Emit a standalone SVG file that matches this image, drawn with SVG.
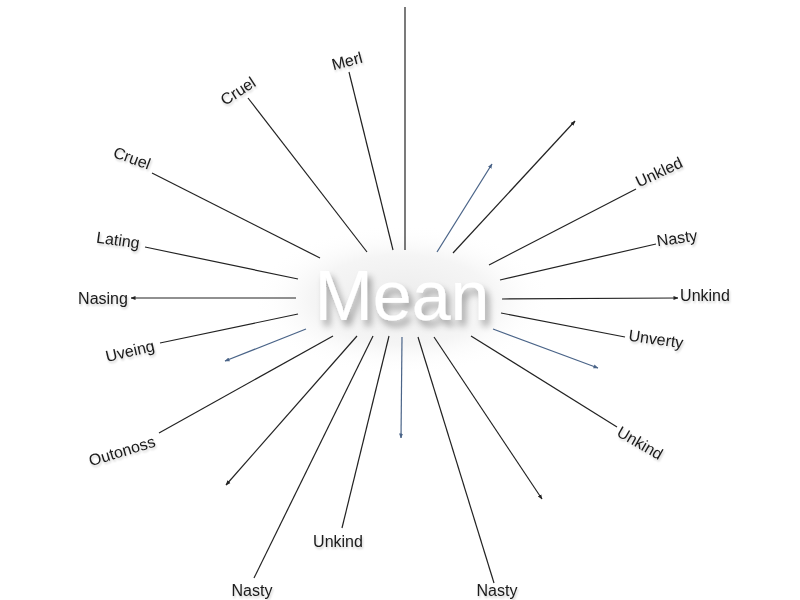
<svg xmlns="http://www.w3.org/2000/svg" width="800" height="600" viewBox="0 0 800 600">
<defs>
<style>
.l{stroke:#222;stroke-width:1.2;fill:none}
.b{stroke:#4a6488;stroke-width:1.2;fill:none}
.t{font-family:"Liberation Sans",Arial,sans-serif;font-size:16px;fill:#1a1a1a;text-anchor:middle;dominant-baseline:central}
</style>
<marker id="ah" viewBox="0 0 10 10" refX="9" refY="5" markerWidth="5" markerHeight="5" orient="auto" markerUnits="userSpaceOnUse"><path d="M0,1 L10,5 L0,9 z" fill="#222"/></marker>
<marker id="ahb" viewBox="0 0 10 10" refX="9" refY="5" markerWidth="5" markerHeight="5" orient="auto" markerUnits="userSpaceOnUse"><path d="M0,1 L10,5 L0,9 z" fill="#4a6488"/></marker>
<filter id="sh" x="-20%" y="-20%" width="140%" height="160%">
<feGaussianBlur in="SourceAlpha" stdDeviation="3.5"/>
<feOffset dx="4" dy="6" result="o"/>
<feComponentTransfer><feFuncA type="linear" slope="0.35"/></feComponentTransfer>
<feMerge><feMergeNode/><feMergeNode in="SourceGraphic"/></feMerge>
</filter>
<filter id="ts" x="-10%" y="-30%" width="120%" height="160%">
<feGaussianBlur in="SourceAlpha" stdDeviation="1.2"/>
<feOffset dx="1" dy="2"/>
<feComponentTransfer><feFuncA type="linear" slope="0.2"/></feComponentTransfer>
<feMerge><feMergeNode/><feMergeNode in="SourceGraphic"/></feMerge>
</filter>
<radialGradient id="glow" cx="0.5" cy="0.5" r="0.5">
<stop offset="0" stop-color="#ececec"/>
<stop offset="0.6" stop-color="#f5f5f5"/>
<stop offset="1" stop-color="#ffffff" stop-opacity="0"/>
</radialGradient>
</defs>
<rect width="800" height="600" fill="#ffffff"/>
<ellipse cx="402" cy="300" rx="150" ry="75" fill="url(#glow)"/>
<g id="connectors">
<line class="l" x1="405" y1="7" x2="405" y2="250"/>
<line class="l" x1="349" y1="72" x2="393" y2="250"/>
<line class="l" x1="248" y1="98" x2="367" y2="252"/>
<line class="l" x1="152" y1="173" x2="320" y2="258"/>
<line class="l" x1="145" y1="247" x2="298" y2="279"/>
<line class="l" x1="296" y1="298" x2="131" y2="298" marker-end="url(#ah)"/>
<line class="l" x1="298" y1="314" x2="160" y2="343"/>
<line class="b" x1="306" y1="329" x2="225" y2="361" marker-end="url(#ahb)"/>
<line class="l" x1="333" y1="336" x2="159" y2="433"/>
<line class="l" x1="357" y1="336" x2="226" y2="485" marker-end="url(#ah)"/>
<line class="l" x1="373" y1="336" x2="254" y2="578"/>
<line class="l" x1="389" y1="336" x2="342" y2="528"/>
<line class="b" x1="402" y1="337" x2="401" y2="438" marker-end="url(#ahb)"/>
<line class="l" x1="418" y1="337" x2="494" y2="583"/>
<line class="l" x1="434" y1="337" x2="542" y2="499" marker-end="url(#ah)"/>
<line class="l" x1="471" y1="336" x2="617" y2="427"/>
<line class="b" x1="493" y1="329" x2="598" y2="368" marker-end="url(#ahb)"/>
<line class="l" x1="501" y1="313" x2="625" y2="337"/>
<line class="l" x1="502" y1="299" x2="678" y2="298" marker-end="url(#ah)"/>
<line class="l" x1="500" y1="280" x2="656" y2="244"/>
<line class="l" x1="489" y1="265" x2="636" y2="189"/>
<line class="l" x1="453" y1="253" x2="575" y2="121" marker-end="url(#ah)"/>
<line class="b" x1="437" y1="252" x2="492" y2="164" marker-end="url(#ahb)"/>
</g>
<g id="center">
<text x="402" y="320" font-family="'Liberation Sans',Arial,sans-serif" font-size="70" fill="#ffffff" text-anchor="middle" filter="url(#sh)">Mean</text>
</g>
<g id="labels" filter="url(#ts)">
<g id="n-merl"><text class="t" transform="translate(347,61) rotate(-15)">Merl</text></g>
<g id="n-cruel1"><text class="t" transform="translate(238,91) rotate(-33)">Cruel</text></g>
<g id="n-cruel2"><text class="t" transform="translate(132,158) rotate(20)">Cruel</text></g>
<g id="n-lating"><text class="t" transform="translate(118,240) rotate(8)">Lating</text></g>
<g id="n-nasing"><text class="t" x="103" y="298">Nasing</text></g>
<g id="n-uveing"><text class="t" transform="translate(130,351) rotate(-13)">Uveing</text></g>
<g id="n-outonoss"><text class="t" transform="translate(122,451) rotate(-17)">Outonoss</text></g>
<g id="n-nasty1"><text class="t" x="252" y="590">Nasty</text></g>
<g id="n-unkind1"><text class="t" x="338" y="541">Unkind</text></g>
<g id="n-nasty2"><text class="t" x="497" y="590">Nasty</text></g>
<g id="n-unkind2"><text class="t" transform="translate(640,443) rotate(30)">Unkind</text></g>
<g id="n-unverty"><text class="t" transform="translate(656,339) rotate(8)">Unverty</text></g>
<g id="n-unkind3"><text class="t" x="705" y="295">Unkind</text></g>
<g id="n-nasty3"><text class="t" transform="translate(677,238) rotate(-8)">Nasty</text></g>
<g id="n-unkled"><text class="t" transform="translate(659,172) rotate(-25)">Unkled</text></g>
</g>
</svg>
